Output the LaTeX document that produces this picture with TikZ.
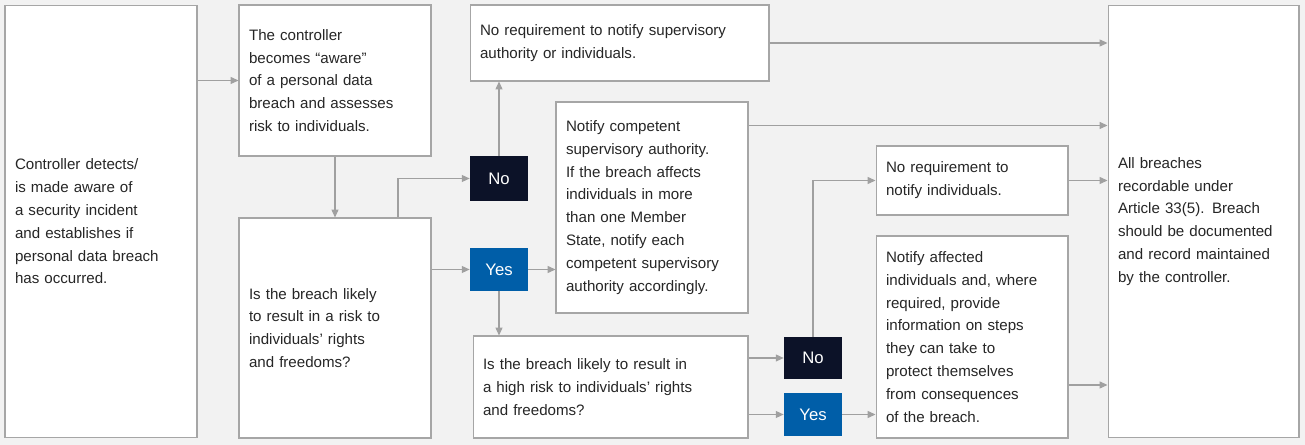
\documentclass[tikz,border=0pt]{standalone}
\usepackage{fontspec}
\setmainfont{Liberation Sans}
\usetikzlibrary{positioning,arrows.meta,calc}
\definecolor{bgrey}{RGB}{242,242,242}
\definecolor{edge}{RGB}{166,166,166}
\definecolor{flow}{RGB}{160,160,160}
\definecolor{navy}{RGB}{12,18,40}
\definecolor{ocean}{RGB}{0,94,168}
\tikzset{
  box/.style={draw=edge, fill=white, line width=0.6pt, inner xsep=0.2cm, align=left,
    font=\fontsize{8.6}{13}\selectfont\color{black!85}},
  tag/.style={fill=#1, text=white, minimum width=1.16cm, font=\fontsize{9.5}{12}\selectfont},
  flowline/.style={draw=flow, line width=0.6pt, -{Triangle[length=4.5pt,width=4pt]}}
}
\newcommand{\boxat}[6]{\node[box, minimum width=#4cm, minimum height=#5cm, text width=#4cm-0.4cm] (#1) at (#2,#3) {#6};}
\begin{document}
\begin{tikzpicture}[x=0.02cm, y=-0.02cm]
    % Hintergrund
    \fill[bgrey] (0,0) rectangle (1305,445);
    \useasboundingbox (0,0) rectangle (1305,445);

    % Kästen
    \boxat{detect}{101}{221.5}{3.84}{8.66}{Controller detects/\\is made aware of\\a security incident\\and establishes if\\personal data breach\\has occurred.}
    \boxat{aware}{335}{80.5}{3.84}{3.02}{The controller\\becomes “aware”\\of a personal data\\breach and assesses\\risk to individuals.}
    \boxat{risk}{335}{328}{3.84}{4.4}{Is the breach likely\\to result in a risk to\\individuals’ rights\\and freedoms?}
    \boxat{noreq}{619.5}{43}{5.98}{1.52}{No requirement to notify supervisory\\authority or individuals.}
    \boxat{notify}{652}{207.5}{3.84}{4.22}{Notify competent\\supervisory authority.\\If the breach affects\\individuals in more\\than one Member\\State, notify each\\competent supervisory\\authority accordingly.}
    \boxat{high}{610.5}{387}{5.5}{2.04}{Is the breach likely to result in\\a high risk to individuals’ rights\\and freedoms?}
    \boxat{noind}{972}{180.5}{3.84}{1.38}{No requirement to\\notify individuals.}
    \boxat{affected}{972}{337}{3.84}{4.04}{Notify affected\\individuals and, where\\required, provide\\information on steps\\they can take to\\protect themselves\\from consequences\\of the breach.}
    \boxat{record}{1203.5}{221.5}{3.82}{8.66}{All breaches\\recordable under\\Article 33(5). Breach\\should be documented\\and record maintained\\by the controller.}

    % Entscheidungen
    \node[tag=navy, minimum height=0.9cm] (noA) at (499,178.5) {No};
    \node[tag=ocean, minimum height=0.86cm] (yesA) at (499,269.5) {Yes};
    \node[tag=navy, minimum height=0.84cm] (noB) at (813,358) {No};
    \node[tag=ocean, minimum height=0.86cm] (yesB) at (813,414.5) {Yes};

    % Verbindungen
    \draw[flowline] (detect.east |- aware.west) -- (aware.west);
    \draw[flowline] (aware.south) -- (risk.north);
    \draw[flowline] ([xshift=1.26cm]risk.north) |- (noA.west);
    \draw[flowline] (yesA.west -| risk.east) -- (yesA.west);
    \draw[flowline] (noA.north) -- (noA.north |- noreq.south);
    \draw[flowline] (yesA.east) -- (yesA.east -| notify.west);
    \draw[flowline] (yesA.south) -- (yesA.south |- high.north);
    \draw[flowline] (noB.west -| high.east) -- (noB.west);
    \draw[flowline] (yesB.west -| high.east) -- (yesB.west);
    \draw[flowline] (noB.north) |- (noind.west);
    \draw[flowline] (yesB.east) -- (yesB.east -| affected.west);
    \draw[flowline] (noreq.east) -- (noreq.east -| record.west);
    \draw[flowline] ([yshift=-0.48cm]notify.north east) -- ([yshift=-0.48cm]notify.north east -| record.west);
    \draw[flowline] (noind.east) -- (noind.east -| record.west);
    \draw[flowline] ([yshift=-0.96cm]affected.east) -- ([yshift=-0.96cm]affected.east -| record.west);
\end{tikzpicture}
\end{document}
